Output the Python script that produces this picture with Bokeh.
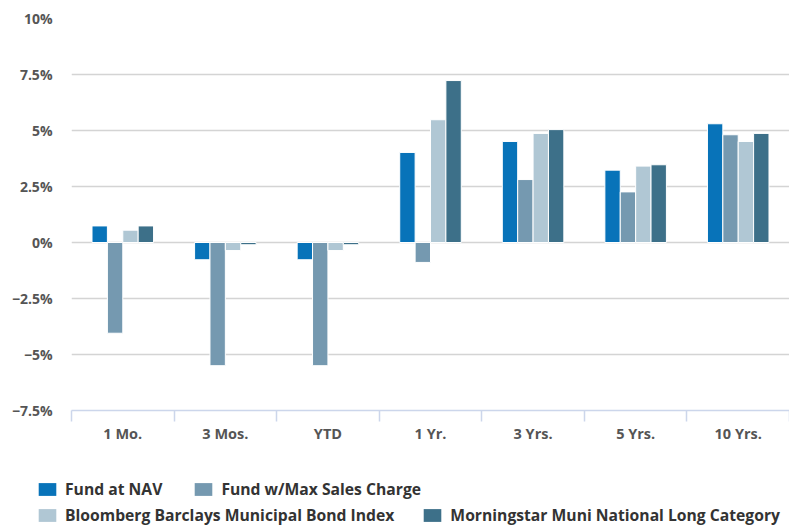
from bokeh.plotting import figure
from bokeh.models import (ColumnDataSource, Range1d, FixedTicker, Legend, LegendItem)
from bokeh.embed import file_html
from bokeh.resources import INLINE

categories = ["1 Mo.", "3 Mos.", "YTD", "1 Yr.", "3 Yrs.", "5 Yrs.", "10 Yrs."]
series_names = ["Fund at NAV", "Fund w/Max Sales Charge",
                "Bloomberg Barclays Municipal Bond Index",
                "Morningstar Muni National Long Category"]
fund_nav = [0.74, -0.77, -0.77, 4.02, 4.51, 3.23, 5.30]
fund_max_sales = [-4.05, -5.50, -5.50, -0.89, 2.81, 2.26, 4.81]
bond_index = [0.55, -0.36, -0.36, 5.48, 4.87, 3.41, 4.51]
morningstar = [0.74, -0.10, -0.10, 7.23, 5.04, 3.47, 4.87]
y_ticks = [-7.5, -5, -2.5, 0, 2.5, 5, 7.5, 10]
y_tick_labels = ["\u22127.5%", "\u22125%", "\u22122.5%", "0%", "2.5%", "5%", "7.5%", "10%"]

colors = ["#0873b9", "#7599b0", "#b0c7d4", "#3d7089"]
offsets = [-0.225, -0.075, 0.075, 0.225]
FONT = "Open Sans"

p = figure(width=789, height=460, output_backend="svg", toolbar_location=None,
           x_range=Range1d(0, len(categories)), y_range=Range1d(-7.5, 10),
           min_border_left=71, min_border_right=0, min_border_top=18,
           min_border_bottom=50)
p.outline_line_color = None
p.xgrid.grid_line_color = None
p.ygrid.grid_line_color = "#d4d4d4"
p.ygrid.grid_line_width = 1.5

for vals, col, off in zip([fund_nav, fund_max_sales, bond_index, morningstar], colors, offsets):
    src = ColumnDataSource(dict(x=[i + 0.5 + off for i in range(len(categories))],
                                top=vals, bottom=[0] * len(vals)))
    p.vbar(x="x", top="top", bottom="bottom", width=0.15, source=src,
           fill_color=col, line_color="white", line_width=1)

# y axis
p.yaxis.ticker = FixedTicker(ticks=y_ticks)
p.yaxis.major_label_overrides = dict(zip(y_ticks, y_tick_labels))
p.yaxis.axis_line_color = None
p.yaxis.major_tick_line_color = None
p.yaxis.minor_tick_line_color = None
p.yaxis.major_tick_out = 0
p.yaxis.major_tick_in = 0
p.yaxis.major_label_standoff = 19
p.yaxis.major_label_text_font = FONT
p.yaxis.major_label_text_font_style = "bold"
p.yaxis.major_label_text_font_size = "14px"
p.yaxis.major_label_text_color = "#555555"

# x axis
p.xaxis.ticker = FixedTicker(ticks=[i + 0.5 for i in range(len(categories))],
                             minor_ticks=list(range(len(categories) + 1)))
p.xaxis.major_label_overrides = {i + 0.5: c for i, c in enumerate(categories)}
p.xaxis.axis_line_color = "#ccd6eb"
p.xaxis.axis_line_width = 1.5
p.xaxis.major_tick_line_color = None
p.xaxis.major_tick_out = 0
p.xaxis.major_tick_in = 0
p.xaxis.minor_tick_line_color = "#ccd6eb"
p.xaxis.minor_tick_line_width = 1.5
p.xaxis.minor_tick_out = 11
p.xaxis.minor_tick_in = 0
p.xaxis.major_label_standoff = 2
p.xaxis.major_label_text_font = FONT
p.xaxis.major_label_text_font_style = "bold"
p.xaxis.major_label_text_font_size = "14.5px"
p.xaxis.major_label_text_color = "#555555"

# legend panel (separate root so its frame is not aligned with the chart)
leg = figure(width=789, height=66, output_backend="svg", toolbar_location=None,
             x_range=Range1d(0, 1), y_range=Range1d(0, 1),
             x_axis_location=None, y_axis_location=None,
             min_border_left=0, min_border_right=0, min_border_top=0, min_border_bottom=0)
leg.outline_line_color = None
leg.grid.grid_line_color = None
dummies = [leg.vbar(x=[0.5], top=[0], bottom=[0], width=0.0, fill_color=c, line_color=None)
           for c in colors]

def make_legend(idx, loc, spacing):
    lg = Legend(items=[LegendItem(label=series_names[i], renderers=[dummies[i]]) for i in idx],
                orientation="horizontal", location=loc,
                glyph_width=22, glyph_height=16, label_height=16,
                label_standoff=7, spacing=spacing, padding=0, margin=0,
                border_line_color=None, background_fill_alpha=0,
                label_text_font=FONT, label_text_font_style="bold",
                label_text_font_size="15.7px", label_text_color="#333333",
                label_text_baseline="middle")
    leg.add_layout(lg, "center")
    return lg

make_legend([0, 1], (36, 26), 30)
make_legend([2, 3], (36, 0), 27)

open("out.html", "w").write(file_html([p, leg], INLINE))
